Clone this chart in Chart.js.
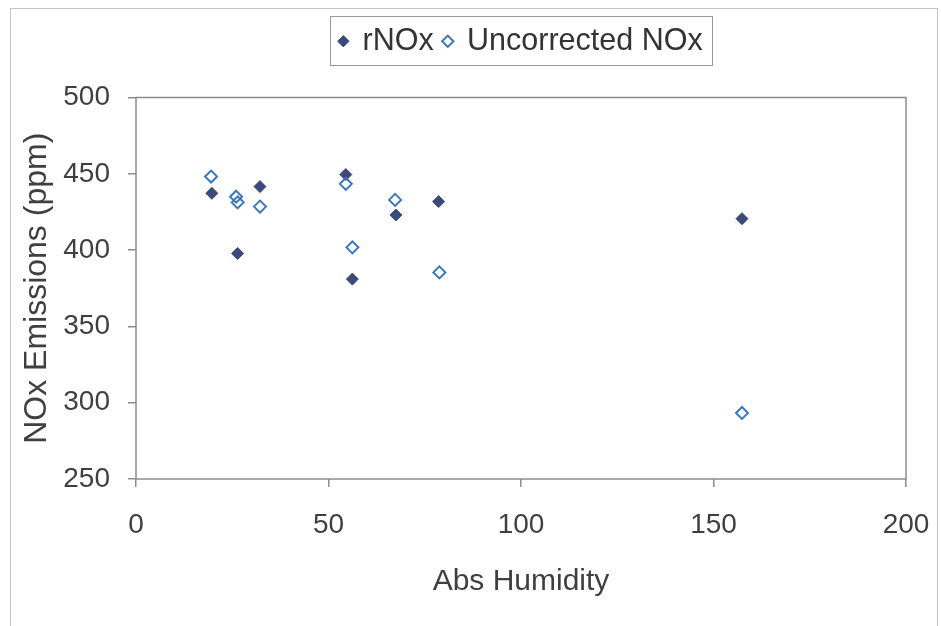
<!DOCTYPE html>
<html>
<head>
<meta charset="utf-8">
<script src="https://cdn.jsdelivr.net/npm/chart.js@4.4.0/dist/chart.umd.min.js"></script>
<style>
  html, body { margin: 0; padding: 0; background: #ffffff; }
  #wrap { width: 941px; height: 626px; }
</style>
</head>
<body>
<div id="wrap"><canvas id="chart" width="941" height="626"></canvas></div>
<script>
// data
const seriesNames = ['rNOx', 'Uncorrected NOx'];
const humidityR = [19.7, 26.4, 32.2, 54.5, 56.2, 67.5, 78.6, 157.4];
const rNOx = [437.2, 397.8, 441.6, 449.5, 381.0, 423.0, 431.8, 420.6];
const humidityU = [19.5, 26.0, 26.4, 32.2, 54.5, 56.2, 67.3, 78.8, 157.4];
const uncorrectedNOx = [448.2, 435.0, 431.3, 428.5, 443.4, 401.8, 432.9, 385.4, 293.3];
const xTicks = [0, 50, 100, 150, 200];
const yTicks = [250, 300, 350, 400, 450, 500];

const fontFamily = '"Liberation Sans", Arial, sans-serif';
const textColor = '#3f3f3f';
const axisColor = '#8c8c8c';

function toPoints(xs, ys) {
    return xs.map((x, i) => ({ x: x, y: ys[i] }));
}

// white page, outer frame and plot box
const framePlugin = {
    id: 'frame',
    beforeDraw(chart) {
        const ctx = chart.ctx;
        ctx.save();
        ctx.fillStyle = '#ffffff';
        ctx.fillRect(0, 0, chart.width, chart.height);
        ctx.strokeStyle = '#c4c4c4';
        ctx.lineWidth = 1;
        ctx.strokeRect(10.5, 8.5, 927, 640);
        ctx.restore();
    },
    afterDatasetsDraw(chart) {
        const a = chart.chartArea;
        const ctx = chart.ctx;
        ctx.save();
        ctx.strokeStyle = axisColor;
        ctx.lineWidth = 1.5;
        ctx.strokeRect(a.left, a.top, a.right - a.left, a.bottom - a.top);
        ctx.restore();
    }
};

// extra space under the legend, plus a box round it
const legendBoxPlugin = {
    id: 'legendBox',
    beforeInit(chart) {
        const fit = chart.legend.fit;
        chart.legend.fit = function () {
            fit.bind(chart.legend)();
            this.height += 31;
        };
    },
    afterDraw(chart) {
        const lg = chart.legend;
        if (!lg || !lg.legendHitBoxes || !lg.legendHitBoxes.length) return;
        const boxes = lg.legendHitBoxes;
        const left = Math.min(...boxes.map(b => b.left)) - 9;
        const right = Math.max(...boxes.map(b => b.left + b.width)) + 10;
        const ctx = chart.ctx;
        ctx.save();
        ctx.strokeStyle = '#9a9a9a';
        ctx.lineWidth = 1;
        ctx.strokeRect(Math.round(left) + 0.5, lg.top + 0.5, Math.round(right - left), 49);
        ctx.restore();
    }
};

const ctx = document.getElementById('chart').getContext('2d');
new Chart(ctx, {
    type: 'scatter',
    data: {
        datasets: [
            {
                label: seriesNames[0],
                data: toPoints(humidityR, rNOx),
                pointStyle: 'rectRot',
                pointRadius: 6,
                pointHoverRadius: 6,
                backgroundColor: '#3b4a7a',
                borderColor: '#3b4a7a',
                borderWidth: 1,
                order: 1
            },
            {
                label: seriesNames[1],
                data: toPoints(humidityU, uncorrectedNOx),
                pointStyle: 'rectRot',
                pointRadius: 6,
                pointHoverRadius: 6,
                backgroundColor: 'rgba(255,255,255,0)',
                borderColor: '#3a78bd',
                borderWidth: 2,
                order: 0
            }
        ]
    },
    options: {
        responsive: false,
        animation: false,
        layout: { padding: { left: 10, right: 35, top: 16, bottom: 8 } },
        plugins: {
            tooltip: { enabled: false },
            legend: {
                display: true,
                position: 'top',
                fullSize: false,
                labels: {
                    usePointStyle: true,
                    boxWidth: 8,
                    boxHeight: 8,
                    padding: 10,
                    color: '#333333',
                    font: { family: fontFamily, size: 30.5 },
                    sort: (a, b) => a.datasetIndex - b.datasetIndex
                }
            }
        },
        scales: {
            x: {
                type: 'linear',
                min: 0,
                max: 200,
                afterFit(scale) {
                    scale.height = 139;
                    scale.paddingLeft = 0;
                    scale.paddingRight = 0;
                },
                afterBuildTicks(scale) { scale.ticks = xTicks.map(v => ({ value: v })); },
                grid: {
                    display: true,
                    drawOnChartArea: false,
                    drawTicks: true,
                    tickLength: 8,
                    color: axisColor,
                    lineWidth: 1.5
                },
                border: { display: false },
                ticks: {
                    padding: 21,
                    color: textColor,
                    font: { family: fontFamily, size: 28 },
                    maxRotation: 0
                },
                title: {
                    display: true,
                    text: 'Abs Humidity',
                    color: textColor,
                    font: { family: fontFamily, size: 30 },
                    padding: { top: 0, bottom: 18 }
                }
            },
            y: {
                type: 'linear',
                min: 250,
                max: 500,
                afterFit(scale) { scale.width = 126; },
                afterBuildTicks(scale) { scale.ticks = yTicks.map(v => ({ value: v })); },
                grid: {
                    display: true,
                    drawOnChartArea: false,
                    drawTicks: true,
                    tickLength: 8,
                    color: axisColor,
                    lineWidth: 1.5
                },
                border: { display: false },
                ticks: {
                    padding: 18,
                    color: textColor,
                    font: { family: fontFamily, size: 28 }
                },
                title: {
                    display: true,
                    text: 'NOx Emissions (ppm)',
                    color: textColor,
                    font: { family: fontFamily, size: 32 },
                    padding: { top: 8, bottom: 0 }
                }
            }
        }
    },
    plugins: [framePlugin, legendBoxPlugin]
});
</script>
</body>
</html>
